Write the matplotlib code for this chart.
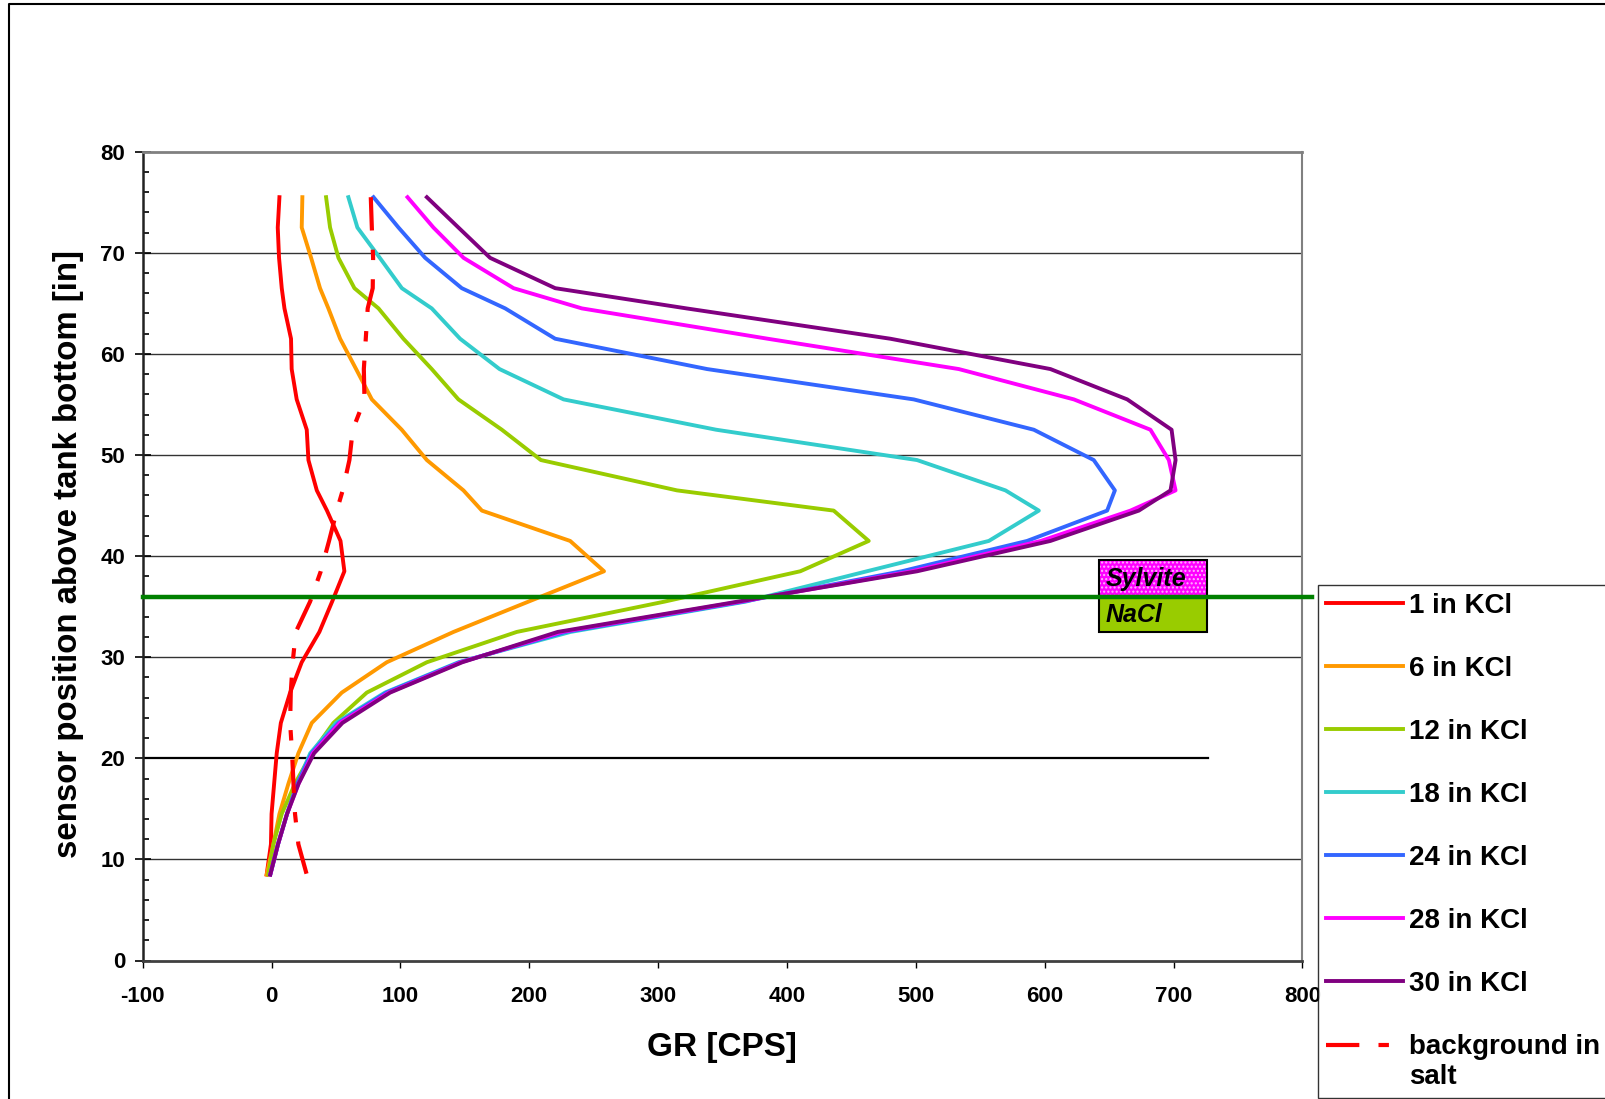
import numpy as np
import matplotlib
matplotlib.use('Agg')
import matplotlib.pyplot as plt
import matplotlib.transforms as mtransforms
from matplotlib.lines import Line2D
from matplotlib.patches import Rectangle
from matplotlib.legend_handler import HandlerLine2D

plt.rcParams['font.family'] = ['Liberation Sans', 'DejaVu Sans']
plt.rcParams['font.weight'] = 'bold'
plt.rcParams['axes.unicode_minus'] = False
plt.rcParams['hatch.linewidth'] = 1.0

# sensor position above tank bottom [in]
depth = [75.5, 72.5, 69.5, 66.5, 64.5, 61.5, 58.5, 55.5, 52.5, 49.5, 46.5, 44.5,
         41.5, 38.5, 35.5, 32.5, 29.5, 26.5, 23.5, 20.5, 17.5, 14.5, 11.5, 8.5]

# GR [CPS] for each KCl thickness
kcl_1 = [6.1, 4.8, 5.8, 7.9, 10, 15.1, 15.6, 19.5, 27.3, 28.6, 35.1, 43,
         53.5, 56.5, 47, 37.1, 23.4, 14.4, 7.2, 4, 2, 0, -0.5, -3.8]
kcl_6 = [23.9, 23.4, 30.7, 37.6, 44.1, 53.2, 65.6, 77.8, 101, 120.5, 148.9, 163.2,
         231.7, 258, 199.4, 141.2, 89.4, 54.5, 31.2, 20.8, 13.1, 6.1, 1.4, -3.8]
kcl_12 = [42.3, 45.4, 51.9, 64.3, 83, 102.3, 124.3, 145, 178.7, 209, 314.6, 436.2,
          463.4, 410.3, 305, 190.3, 120.5, 73.9, 48, 31.2, 18.2, 7.9, 1.4, -2.5]
kcl_18 = [59.6, 66.6, 84, 101.1, 124.3, 146.3, 176.9, 226.6, 345, 500.9, 569.5, 595.4,
          556.6, 462, 368, 232, 145, 88, 50, 30, 20, 12, 5, -1]
kcl_24 = [79.1, 98.5, 119.2, 147.6, 181.3, 220.1, 338, 498.3, 591.5, 638, 654.4, 648.4,
          586.3, 489, 366, 228, 146, 89, 52, 31, 20, 12, 5, -1]
kcl_28 = [105.5, 125.6, 149, 187.8, 240.8, 385, 533.3, 622.6, 682, 696.3, 701.5, 666.5,
          597, 497, 364, 225, 147, 91, 53, 32, 21, 12, 5, -1]
kcl_30 = [120.5, 145, 169.6, 220.1, 322, 480.2, 604.4, 664, 698.4, 701.5, 697.6, 673,
          604.4, 501, 362, 222, 148, 92, 55, 33, 21, 12, 5, -1]
background = [77, 77.8, 78.8, 78.5, 74.6, 73.1, 71.6, 72.1, 63, 60.4, 55.2, 50.6,
              44.6, 38.2, 29.9, 18.8, 16.4, 14.9, 14.4, 15.9, 17, 18.2, 20.8, 27.3]

labels = ['1 in KCl', '6 in KCl', '12 in KCl', '18 in KCl', '24 in KCl',
          '28 in KCl', '30 in KCl']
colors = ['#FF0000', '#FF9900', '#99CC00', '#33CCCC', '#3366FF', '#FF00FF', '#800080']

# salt contact and box label
contact_y = 36
contact_x = [-100, 807]
line20_x = [-100, 727]
box_x = [642, 726]
box_y = [32.5, 39.6]


class HandlerFirstLine(HandlerLine2D):
    # put the handle next to the first line of a two-line label
    def create_artists(self, legend, orig_handle, xdescent, ydescent, width, height, fontsize, trans):
        arts = super().create_artists(legend, orig_handle, xdescent, ydescent,
                                      width, height, fontsize, trans)
        shift = mtransforms.Affine2D().translate(0, 0.6 * fontsize * legend.figure.dpi / 72)
        for a in arts:
            a.set_transform(trans + shift)
        return arts


W, H = 1606, 1099
fig = plt.figure(figsize=(W / 100, H / 100), dpi=100)
ax = fig.add_axes([142.7 / W, 1 - 960.5 / H, (1302.5 - 142.7) / W, (960.5 - 151.7) / H])

# gridlines (the one at 20 is replaced by a shorter black line)
for g in [10, 30, 40, 50, 60, 70]:
    ax.axhline(g, color='#333333', lw=1.0, zorder=1)
ax.plot(line20_x, [20, 20], color='black', lw=1.6, zorder=1)

series = [kcl_1, kcl_6, kcl_12, kcl_18, kcl_24, kcl_28, kcl_30]
for vals, lab, c in zip(series, labels, colors):
    ax.plot(vals, depth, color=c, lw=2.8, label=lab, zorder=3)
bg, = ax.plot(background, depth, color='#FF0000', lw=3.0, label='background in\nsalt', zorder=3)
bg.set_dashes([8, 4.6, 2.5, 4.6])
bg.set_dash_capstyle('butt')

# Sylvite / NaCl box
ax.add_patch(Rectangle((box_x[0], contact_y), box_x[1] - box_x[0], box_y[1] - contact_y,
                       facecolor='#FF00FF', edgecolor='#FFB0FF', hatch='....', lw=0, zorder=4))
ax.add_patch(Rectangle((box_x[0], box_y[0]), box_x[1] - box_x[0], contact_y - box_y[0],
                       facecolor='#99CC00', edgecolor='none', zorder=4))
ax.add_patch(Rectangle((box_x[0], box_y[0]), box_x[1] - box_x[0], box_y[1] - box_y[0],
                       facecolor='none', edgecolor='black', lw=1.5, zorder=5))
ax.text(box_x[0] + 5, 37.0, 'Sylvite', fontsize=18, fontstyle='italic', fontweight='bold', zorder=6)
ax.text(box_x[0] + 5, 33.5, 'NaCl', fontsize=18, fontstyle='italic', fontweight='bold', zorder=6)

ax.plot(contact_x, [contact_y, contact_y], color='#008000', lw=3.2, clip_on=False, zorder=7)

ax.set_xlim(-100, 800)
ax.set_ylim(0, 80)
ax.set_xticks(np.arange(-100, 801, 100))
ax.set_yticks(np.arange(0, 81, 10))
ax.set_yticks(np.arange(0, 81, 2), minor=True)
ax.tick_params(axis='y', which='major', direction='inout', length=11, width=1.2, pad=7, labelsize=16)
ax.tick_params(axis='y', which='minor', direction='in', length=4, width=1.2)
ax.tick_params(axis='x', which='major', direction='out', length=5, width=1.0, pad=13, labelsize=16)
for t in ax.get_xticklabels() + ax.get_yticklabels():
    t.set_fontweight('bold')

ax.spines['top'].set_color('#808080')
ax.spines['right'].set_color('#808080')
ax.spines['top'].set_linewidth(2)
ax.spines['right'].set_linewidth(1.5)
ax.spines['left'].set_color('#222222')
ax.spines['left'].set_linewidth(1.8)
ax.spines['bottom'].set_color('#404040')
ax.spines['bottom'].set_linewidth(2)

ax.set_xlabel('GR [CPS]', fontsize=24, fontweight='bold')
ax.xaxis.set_label_coords(0.4995, -0.107)
ax.set_ylabel('sensor position above tank bottom [in]', fontsize=23.8, fontweight='bold')
ax.yaxis.set_label_coords(-0.0638, 0.503)
ax.xaxis.label.set_va('center')
ax.yaxis.label.set_va('center')

leg = ax.legend(loc='upper left', bbox_to_anchor=(1318 / W, 1 - 584.8 / H),
                bbox_transform=fig.transFigure, fontsize=20, frameon=True, fancybox=False,
                edgecolor='black', borderpad=0.3, labelspacing=1.33, handlelength=2.77,
                handletextpad=0.2, borderaxespad=0,
                handler_map={bg: HandlerFirstLine()})
leg.get_frame().set_linewidth(1.0)
for t in leg.get_texts():
    t.set_fontweight('bold')

# outer chart border (top and left edges visible)
fig.add_artist(Line2D([9.5 / W, 9.5 / W, 1], [0, 1 - 3.5 / H, 1 - 3.5 / H],
                      transform=fig.transFigure, color='black', lw=1.5))

fig.savefig('out.png', dpi=100)
